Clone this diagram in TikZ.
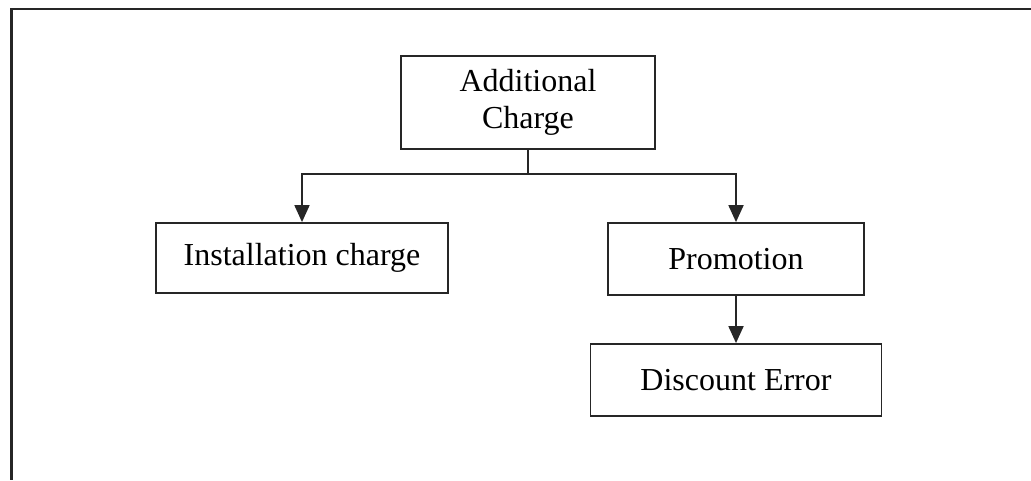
\documentclass[tikz,border=0pt]{standalone}
\usepackage{fontspec}
\setmainfont{Liberation Serif}
\usetikzlibrary{arrows.meta}
\begin{document}
\begin{tikzpicture}[x=1pt,y=-1pt,
  box/.style={draw=black!85, line width=1.8pt, rectangle, inner sep=0pt,
    font=\fontsize{32}{37}\selectfont, align=center},
  link/.style={draw=black!85, line width=1.8pt},
  arr/.style={link, -{Triangle[width=15pt,length=17pt]}}]
  \useasboundingbox (0,0) rectangle (1031,480);
  % open frame: top and left edges only
  \draw[line width=2.5pt, black!85] (1031,9) -- (11.5,9) -- (11.5,480);

  \node[box, minimum width=254pt, minimum height=93pt] (top) at (528,102.5) {Additional\\Charge};
  \node[box, minimum width=292pt, minimum height=70pt] (inst) at (302,258) {Installation charge};
  \node[box, minimum width=256pt, minimum height=72pt] (promo) at (736,259) {Promotion};
  \node[box, minimum width=291pt, minimum height=72pt] (disc) at (736,380) {Discount Error};

  \coordinate (j) at (528,174);
  \draw[link] (top.south) -- (j);
  \draw[arr] (j) -| (inst.north);
  \draw[arr] (j) -| (promo.north);
  \draw[arr] (promo.south) -- (disc.north);
\end{tikzpicture}
\end{document}
